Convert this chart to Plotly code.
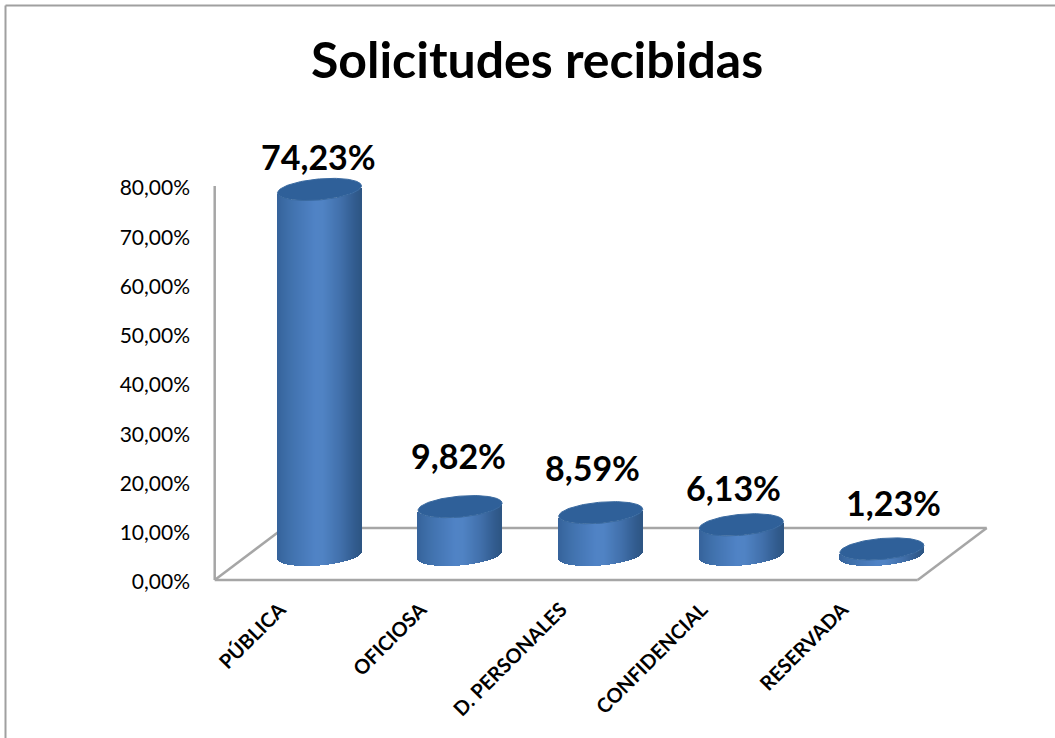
import numpy as np
import plotly.graph_objects as go

categories = ["PÚBLICA", "OFICIOSA", "D. PERSONALES", "CONFIDENCIAL", "RESERVADA"]
values = [74.23, 9.82, 8.59, 6.13, 1.23]
value_labels = ["74,23%", "9,82%", "8,59%", "6,13%", "1,23%"]
y_ticks = [0, 10, 20, 30, 40, 50, 60, 70, 80]
y_tick_labels = ["0,00%", "10,00%", "20,00%", "30,00%", "40,00%", "50,00%", "60,00%", "70,00%", "80,00%"]

W, H = 1055, 738
PX_X = 140.6          # pixels per category
PX_Y = 4.925          # pixels per percentage point
X0_PX, Y0_PX = 285.0, 580.0   # pixel of first category / of 0 %
xr = [(0 - X0_PX) / PX_X, (W - X0_PX) / PX_X]
yr = [(Y0_PX - H) / PX_Y, Y0_PX / PX_Y]

DX = 34.5 / PX_X      # depth shift of the cylinders
DY = 25.0 / PX_Y
RX = 42.0 / PX_X      # ellipse half width
RY = 10.5 / PX_Y      # ellipse half height
TILT = 3.5 / PX_Y     # ellipse tilt
N = 84


def shade(u):
    stops_u = [-1, -0.7, -0.1, 0.1, 0.5, 0.85, 1]
    stops = np.array([[54, 99, 155], [64, 113, 172], [80, 131, 198], [80, 131, 196],
                      [66, 113, 172], [50, 92, 143], [46, 86, 132]])
    c = [np.interp(u, stops_u, stops[:, k]) for k in range(3)]
    return "rgb(%d,%d,%d)" % tuple(c)


xs, bases, hs, cols = [], [], [], []
us = (np.arange(N) + 0.5) / N * 2 - 1
for i, v in enumerate(values):
    for u in us:
        low = DY + TILT * u - RY * np.sqrt(1 - u * u)
        xs.append(i + DX + RX * u)
        bases.append(low)
        hs.append(v)
        cols.append(shade(u))

fig = go.Figure()
fig.add_trace(go.Bar(x=xs, y=hs, base=bases, width=1.35 / PX_X,
                     marker=dict(color=cols, line=dict(width=0)),
                     hoverinfo="skip", showlegend=False))

t = np.linspace(0, 2 * np.pi, 121)
for i, v in enumerate(values):
    fig.add_trace(go.Scatter(
        x=i + DX + RX * np.cos(t),
        y=v + DY + TILT * np.cos(t) + RY * np.sin(t),
        mode="lines", fill="toself", fillcolor="rgb(47,96,153)",
        line=dict(color="rgb(58,106,160)", width=1),
        hoverinfo="skip", showlegend=False))

# floor and walls
GRAY = "#A6A6A6"
fl = dict(xref="x", yref="y", layer="below", line=dict(color=GRAY, width=2.5))
back_dx = 69 / PX_X
back_dy = 52 / PX_Y
fig.add_shape(type="line", x0=-0.5, y0=0, x1=-0.5, y1=80, **fl)
fig.add_shape(type="line", x0=-0.5, y0=0, x1=4.5, y1=0, **fl)
fig.add_shape(type="line", x0=4.5, y0=0, x1=4.5 + back_dx, y1=back_dy, **fl)
fig.add_shape(type="line", x0=-0.5 + back_dx, y0=back_dy, x1=4.5 + back_dx, y1=back_dy, **fl)
fig.add_shape(type="line", x0=-0.5, y0=0, x1=-0.5 + back_dx, y1=back_dy, **fl)

# outer frame (top and left only)
frame = dict(xref="paper", yref="paper", line=dict(color="#A0A0A0", width=2))
fig.add_shape(type="line", x0=5.5 / W, x1=1, y0=1 - 5.5 / H, y1=1 - 5.5 / H, **frame)
fig.add_shape(type="line", x0=5.5 / W, x1=5.5 / W, y0=0, y1=1 - 5.5 / H, **frame)

# value labels
label_dx = [-1.5, -2, -8, -8, 12]
label_dy = [33, 51, 45, 37, 46]
for i, (v, s) in enumerate(zip(values, value_labels)):
    fig.add_annotation(x=i + DX, y=v + DY, text=s, showarrow=False,
                       xshift=label_dx[i], yshift=label_dy[i], yanchor="middle",
                       font=dict(family="Lato", size=34, color="black", weight=700))

fig.update_layout(
    width=W, height=H, margin=dict(l=0, r=0, t=0, b=0),
    paper_bgcolor="white", plot_bgcolor="white", barmode="overlay", bargap=0,
    font=dict(family="Lato", color="black"),
    title=dict(text="Solicitudes recibidas", x=537 / W, xanchor="center",
               y=1 - 60 / H, yanchor="middle",
               font=dict(family="Lato", size=50, color="black", weight=700)),
    xaxis=dict(range=xr, domain=[0, 1], showgrid=False, zeroline=False, showline=False,
               anchor="free", position=(H - Y0_PX) / H,
               tickmode="array", tickvals=[i - 0.035 for i in range(5)], ticktext=categories,
               tickangle=-45, ticks="", ticklabelstandoff=13,
               tickfont=dict(family="Lato", size=20, color="black", weight=700)),
    yaxis=dict(range=yr, domain=[0, 1], showgrid=False, zeroline=False, showline=False,
               anchor="free", position=190 / W,
               tickmode="array", tickvals=y_ticks, ticktext=y_tick_labels, ticks="",
               ticklabelshift=2,
               tickfont=dict(family="Lato", size=21, color="black")),
)

fig.write_html("out.html", config={"displayModeBar": False},
               post_script="document.body.style.margin='0';document.body.style.overflow='hidden';")
